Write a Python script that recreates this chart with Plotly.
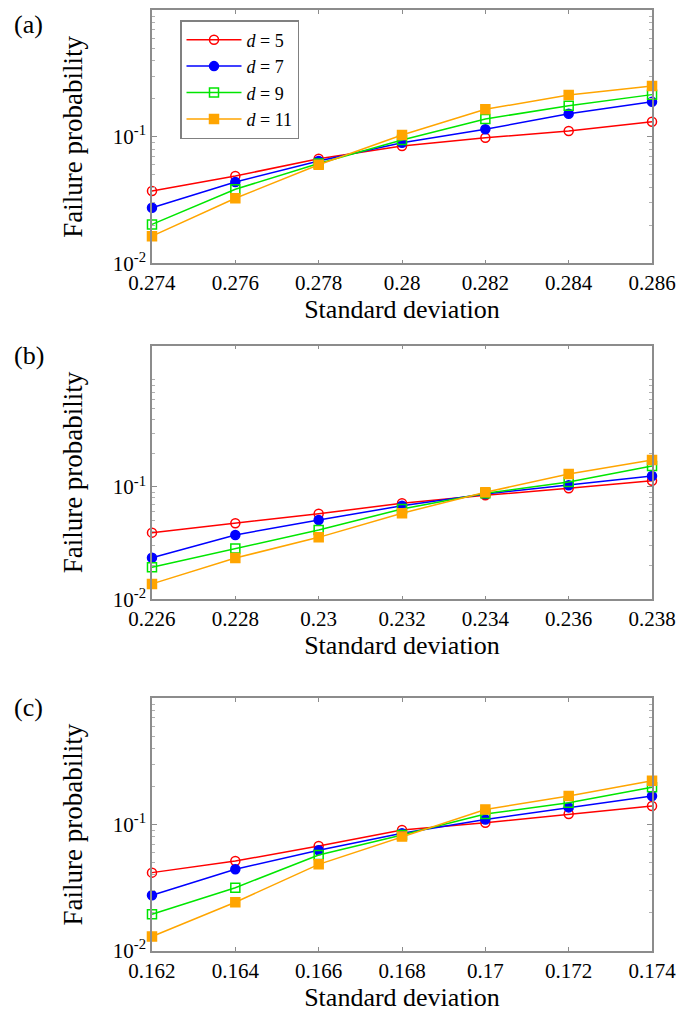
import plotly.graph_objects as go

# ---------------- data ----------------
series_names = ["<i>d</i> = 5", "<i>d</i> = 7", "<i>d</i> = 9", "<i>d</i> = 11"]

x_a = [0.274, 0.276, 0.278, 0.280, 0.282, 0.284, 0.286]
a_d5 = [0.0373, 0.0490, 0.0671, 0.0845, 0.0984, 0.1110, 0.1315]
a_d7 = [0.0275, 0.0440, 0.0645, 0.0897, 0.1146, 0.1524, 0.1890]
a_d9 = [0.0203, 0.0385, 0.0616, 0.0945, 0.1384, 0.1760, 0.2155]
a_d11 = [0.0164, 0.0327, 0.0601, 0.1033, 0.1650, 0.2138, 0.2524]

x_b = [0.226, 0.228, 0.230, 0.232, 0.234, 0.236, 0.238]
b_d5 = [0.0392, 0.0475, 0.0578, 0.0716, 0.0843, 0.0972, 0.1137]
b_d7 = [0.0234, 0.0374, 0.0508, 0.0680, 0.0867, 0.1035, 0.1253]
b_d9 = [0.0193, 0.0283, 0.0414, 0.0637, 0.0879, 0.1110, 0.1538]
b_d11 = [0.0137, 0.0233, 0.0356, 0.0584, 0.0897, 0.1306, 0.1738]

x_c = [0.162, 0.164, 0.166, 0.168, 0.170, 0.172, 0.174]
c_d5 = [0.0417, 0.0515, 0.0678, 0.0908, 0.1035, 0.1213, 0.1407]
c_d7 = [0.0276, 0.0444, 0.0627, 0.0855, 0.1100, 0.1370, 0.1687]
c_d9 = [0.0195, 0.0317, 0.0575, 0.0828, 0.1213, 0.1490, 0.1977]
c_d11 = [0.0130, 0.0243, 0.0485, 0.0804, 0.1320, 0.1687, 0.2228]

x_tick_a = ["0.274", "0.276", "0.278", "0.28", "0.282", "0.284", "0.286"]
x_tick_b = ["0.226", "0.228", "0.23", "0.232", "0.234", "0.236", "0.238"]
x_tick_c = ["0.162", "0.164", "0.166", "0.168", "0.17", "0.172", "0.174"]
y_tick_vals = [0.01, 0.1]
y_tick_text = ["10<sup>-2</sup>", "10<sup>-1</sup>"]
panel_labels = ["(a)", "(b)", "(c)"]

# ---------------- style ----------------
colors = ["#FF0000", "#0000FF", "#00E600", "#FFA500"]
symbols = ["circle-open", "circle", "square-open", "square"]
FONT = "Liberation Serif"
AXC = "#8c8c8c"

# page has an 8px body margin, so figure is 676x1004 drawn at (8, 8)
W, H = 676, 1004

panels = [
    (x_a, [a_d5, a_d7, a_d9, a_d11], x_tick_a, [0.7457, 0.9977], [-2, 0]),
    (x_b, [b_d5, b_d7, b_d9, b_d11], x_tick_b, [0.4111, 0.6636], [-2, 0.258]),
    (x_c, [c_d5, c_d7, c_d9, c_d11], x_tick_c, [0.0608, 0.3124], [-2, 0]),
]

minor_vals = [k * 10 ** e for e in (-2, -1, 0) for k in range(2, 10)]

fig = go.Figure()
layout = {}
for i, (xs, ys_list, xt, ydom, yr) in enumerate(panels):
    n = "" if i == 0 else str(i + 1)
    for j, ys in enumerate(ys_list):
        fig.add_trace(go.Scatter(
            x=xs, y=ys, mode="lines+markers", name=series_names[j],
            xaxis="x" + n, yaxis="y" + n,
            line=dict(color=colors[j], width=1.5),
            marker=dict(symbol=symbols[j], size=9,
                        color=colors[j], line=dict(color=colors[j], width=1.5)),
            cliponaxis=False, showlegend=(i == 0),
        ))
    layout["xaxis" + n] = dict(
        domain=[0.2130, 0.9527], anchor="y" + n, automargin=False,
        range=[xs[0], xs[-1]], tickmode="array", tickvals=xs, ticktext=xt,
        ticks="inside", ticklen=4, tickcolor=AXC, tickwidth=1,
        showline=True, linecolor=AXC, linewidth=1.5, mirror="ticks",
        showgrid=False, zeroline=False,
        tickfont=dict(family=FONT, size=21, color="black"),
        title=dict(text="Standard deviation", font=dict(family=FONT, size=26, color="black"),
                   standoff=6),
    )
    layout["yaxis" + n] = dict(
        domain=ydom, anchor="x" + n, type="log", range=yr, automargin=False,
        tickmode="array", tickvals=y_tick_vals, ticktext=y_tick_text,
        ticks="inside", ticklen=5, tickcolor=AXC, tickwidth=1,
        minor=dict(tickmode="array", tickvals=minor_vals, ticks="inside",
                   ticklen=3, tickcolor="#b0b0b0", tickwidth=1, showgrid=False),
        showline=True, linecolor=AXC, linewidth=1.5, mirror="ticks",
        showgrid=False, zeroline=False,
        tickfont=dict(family=FONT, size=21, color="black"),
        title=dict(text="Failure probability", font=dict(family=FONT, size=27, color="black"),
                   standoff=22),
    )

annots = []
label_pos = [(1.0, "top"), (1 - 347 / H, "middle"), (1 - 699 / H, "middle")]
for lab, (yy, ya) in zip(panel_labels, label_pos):
    annots.append(dict(text=lab, x=4 / W, y=yy, xref="paper", yref="paper",
                       xanchor="left", yanchor=ya, showarrow=False,
                       font=dict(family=FONT, size=26, color="black")))

fig.update_layout(
    width=W, height=H,
    margin=dict(l=0, r=0, t=0, b=0),
    paper_bgcolor="white", plot_bgcolor="white",
    font=dict(family=FONT, color="black"),
    annotations=annots,
    legend=dict(x=172 / W, y=1 - 12 / H, xanchor="left", yanchor="top",
                bgcolor="white", bordercolor="#808080", borderwidth=1.5,
                font=dict(family=FONT, size=18, color="black"),
                itemwidth=55, tracegroupgap=0),
    **layout,
)

fig.write_html("out.html")
